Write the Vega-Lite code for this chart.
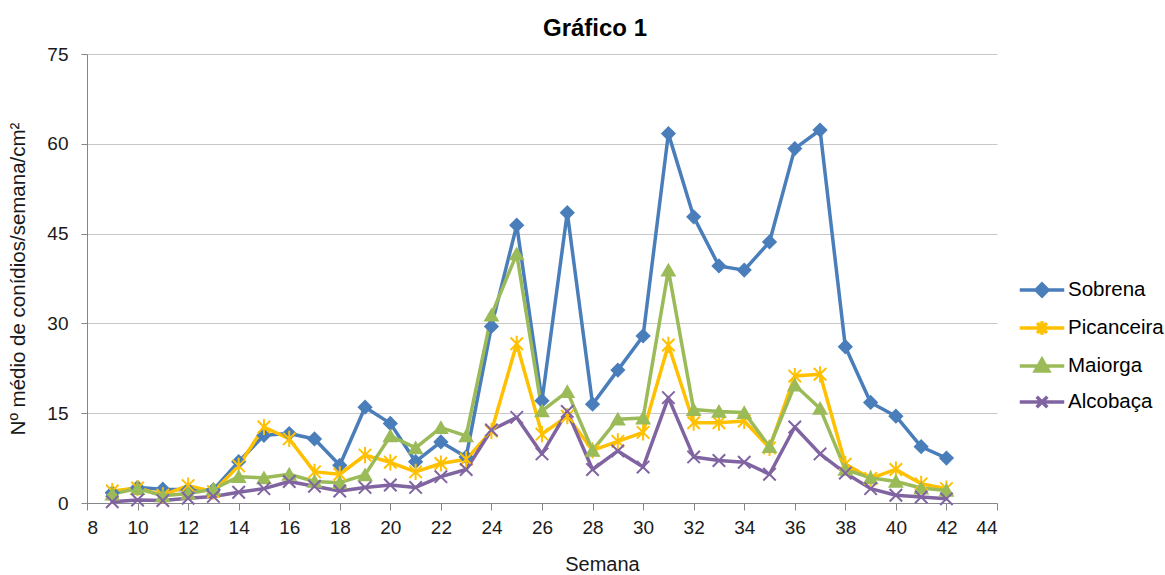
{
  "$schema": "https://vega.github.io/schema/vega-lite/v6.json",
  "autosize": {"type": "none"},
  "width": 910,
  "height": 449,
  "padding": {"left": 87, "top": 54, "right": 168, "bottom": 72},
  "background": "white",
  "title": {"text": "Gráfico 1", "font": "Liberation Sans", "fontSize": 24, "fontWeight": "bold", "color": "#000000", "anchor": "start", "frame": "group", "dx": 456, "offset": 4},
  "config": {"view": {"stroke": null}, "font": "Liberation Sans"},
  "resolve": {"legend": {"color": "independent", "shape": "independent", "stroke": "independent"}},
  "data": {"values": [
    {"w":9,"s":"Sobrena","v":1.7},{"w":10,"s":"Sobrena","v":2.6},{"w":11,"s":"Sobrena","v":2.3},{"w":12,"s":"Sobrena","v":2.2},{"w":13,"s":"Sobrena","v":2.2},{"w":14,"s":"Sobrena","v":6.9},{"w":15,"s":"Sobrena","v":11.3},{"w":16,"s":"Sobrena","v":11.6},{"w":17,"s":"Sobrena","v":10.7},{"w":18,"s":"Sobrena","v":6.3},{"w":19,"s":"Sobrena","v":16.0},{"w":20,"s":"Sobrena","v":13.3},{"w":21,"s":"Sobrena","v":6.9},{"w":22,"s":"Sobrena","v":10.2},{"w":23,"s":"Sobrena","v":7.7},{"w":24,"s":"Sobrena","v":29.5},{"w":25,"s":"Sobrena","v":46.4},{"w":26,"s":"Sobrena","v":17.1},{"w":27,"s":"Sobrena","v":48.5},{"w":28,"s":"Sobrena","v":16.5},{"w":29,"s":"Sobrena","v":22.2},{"w":30,"s":"Sobrena","v":27.9},{"w":31,"s":"Sobrena","v":61.7},{"w":32,"s":"Sobrena","v":47.8},{"w":33,"s":"Sobrena","v":39.6},{"w":34,"s":"Sobrena","v":38.9},{"w":35,"s":"Sobrena","v":43.6},{"w":36,"s":"Sobrena","v":59.2},{"w":37,"s":"Sobrena","v":62.3},{"w":38,"s":"Sobrena","v":26.1},{"w":39,"s":"Sobrena","v":16.8},{"w":40,"s":"Sobrena","v":14.5},{"w":41,"s":"Sobrena","v":9.4},{"w":42,"s":"Sobrena","v":7.5},
    {"w":9,"s":"Picanceira","v":2.0},{"w":10,"s":"Picanceira","v":2.5},{"w":11,"s":"Picanceira","v":1.3},{"w":12,"s":"Picanceira","v":2.9},{"w":13,"s":"Picanceira","v":1.9},{"w":14,"s":"Picanceira","v":6.2},{"w":15,"s":"Picanceira","v":12.7},{"w":16,"s":"Picanceira","v":10.7},{"w":17,"s":"Picanceira","v":5.2},{"w":18,"s":"Picanceira","v":4.8},{"w":19,"s":"Picanceira","v":8.0},{"w":20,"s":"Picanceira","v":6.8},{"w":21,"s":"Picanceira","v":5.2},{"w":22,"s":"Picanceira","v":6.6},{"w":23,"s":"Picanceira","v":7.3},{"w":24,"s":"Picanceira","v":12.0},{"w":25,"s":"Picanceira","v":26.6},{"w":26,"s":"Picanceira","v":11.5},{"w":27,"s":"Picanceira","v":14.5},{"w":28,"s":"Picanceira","v":8.8},{"w":29,"s":"Picanceira","v":10.3},{"w":30,"s":"Picanceira","v":11.8},{"w":31,"s":"Picanceira","v":26.4},{"w":32,"s":"Picanceira","v":13.4},{"w":33,"s":"Picanceira","v":13.4},{"w":34,"s":"Picanceira","v":13.7},{"w":35,"s":"Picanceira","v":9.2},{"w":36,"s":"Picanceira","v":21.2},{"w":37,"s":"Picanceira","v":21.5},{"w":38,"s":"Picanceira","v":6.5},{"w":39,"s":"Picanceira","v":4.1},{"w":40,"s":"Picanceira","v":5.6},{"w":41,"s":"Picanceira","v":3.2},{"w":42,"s":"Picanceira","v":2.4},
    {"w":9,"s":"Maiorga","v":1.5},{"w":10,"s":"Maiorga","v":2.4},{"w":11,"s":"Maiorga","v":1.2},{"w":12,"s":"Maiorga","v":1.6},{"w":13,"s":"Maiorga","v":2.3},{"w":14,"s":"Maiorga","v":4.4},{"w":15,"s":"Maiorga","v":4.2},{"w":16,"s":"Maiorga","v":4.8},{"w":17,"s":"Maiorga","v":3.6},{"w":18,"s":"Maiorga","v":3.4},{"w":19,"s":"Maiorga","v":4.7},{"w":20,"s":"Maiorga","v":11.2},{"w":21,"s":"Maiorga","v":9.2},{"w":22,"s":"Maiorga","v":12.6},{"w":23,"s":"Maiorga","v":11.2},{"w":24,"s":"Maiorga","v":31.4},{"w":25,"s":"Maiorga","v":41.6},{"w":26,"s":"Maiorga","v":15.4},{"w":27,"s":"Maiorga","v":18.6},{"w":28,"s":"Maiorga","v":8.8},{"w":29,"s":"Maiorga","v":14.0},{"w":30,"s":"Maiorga","v":14.2},{"w":31,"s":"Maiorga","v":38.9},{"w":32,"s":"Maiorga","v":15.6},{"w":33,"s":"Maiorga","v":15.3},{"w":34,"s":"Maiorga","v":15.1},{"w":35,"s":"Maiorga","v":9.4},{"w":36,"s":"Maiorga","v":19.7},{"w":37,"s":"Maiorga","v":15.8},{"w":38,"s":"Maiorga","v":5.6},{"w":39,"s":"Maiorga","v":4.2},{"w":40,"s":"Maiorga","v":3.6},{"w":41,"s":"Maiorga","v":2.5},{"w":42,"s":"Maiorga","v":2.1},
    {"w":9,"s":"Alcobaça","v":0.2},{"w":10,"s":"Alcobaça","v":0.5},{"w":11,"s":"Alcobaça","v":0.4},{"w":12,"s":"Alcobaça","v":0.8},{"w":13,"s":"Alcobaça","v":1.1},{"w":14,"s":"Alcobaça","v":1.8},{"w":15,"s":"Alcobaça","v":2.4},{"w":16,"s":"Alcobaça","v":3.6},{"w":17,"s":"Alcobaça","v":2.8},{"w":18,"s":"Alcobaça","v":2.0},{"w":19,"s":"Alcobaça","v":2.6},{"w":20,"s":"Alcobaça","v":3.0},{"w":21,"s":"Alcobaça","v":2.6},{"w":22,"s":"Alcobaça","v":4.4},{"w":23,"s":"Alcobaça","v":5.6},{"w":24,"s":"Alcobaça","v":12.2},{"w":25,"s":"Alcobaça","v":14.3},{"w":26,"s":"Alcobaça","v":8.2},{"w":27,"s":"Alcobaça","v":15.3},{"w":28,"s":"Alcobaça","v":5.6},{"w":29,"s":"Alcobaça","v":8.7},{"w":30,"s":"Alcobaça","v":6.0},{"w":31,"s":"Alcobaça","v":17.6},{"w":32,"s":"Alcobaça","v":7.7},{"w":33,"s":"Alcobaça","v":7.1},{"w":34,"s":"Alcobaça","v":6.8},{"w":35,"s":"Alcobaça","v":4.8},{"w":36,"s":"Alcobaça","v":12.7},{"w":37,"s":"Alcobaça","v":8.2},{"w":38,"s":"Alcobaça","v":5.0},{"w":39,"s":"Alcobaça","v":2.4},{"w":40,"s":"Alcobaça","v":1.3},{"w":41,"s":"Alcobaça","v":1.0},{"w":42,"s":"Alcobaça","v":0.7}
  ]},
  "encoding": {
    "x": {"field": "w", "type": "quantitative",
      "scale": {"domain": [8, 44], "nice": false, "zero": false},
      "axis": {"values": [8,10,12,14,16,18,20,22,24,26,28,30,32,34,36,38,40,42,44], "title": "Semana", "grid": false,
        "domainColor": "#868686", "domainWidth": 1, "tickColor": "#868686", "tickSize": 7,
        "labelFont": "Liberation Sans", "labelFontSize": 19, "labelColor": "#1a1a1a", "labelPadding": 8,
        "titleFont": "Liberation Sans", "titleFontSize": 20, "titleFontWeight": "normal", "titleColor": "#1a1a1a",
        "titleX": 515, "titleY": 51, "titleBaseline": "top"}},
    "y": {"field": "v", "type": "quantitative",
      "scale": {"domain": [0, 75], "nice": false},
      "axis": {"values": [0,15,30,45,60,75], "title": "Nº médio de conídios/semana/cm²", "grid": true, "gridColor": "#c8c8c8", "gridWidth": 1,
        "domainColor": "#868686", "domainWidth": 1, "tickColor": "#868686", "tickSize": 6,
        "labelFont": "Liberation Sans", "labelFontSize": 19, "labelColor": "#1a1a1a", "labelPadding": 13,
        "titleFont": "Liberation Sans", "titleFontSize": 20.5, "titleFontWeight": "normal", "titleColor": "#1a1a1a", "titlePadding": 18}}
  },
  "layer": [
    {
      "mark": {"type": "line", "strokeWidth": 3.5, "strokeJoin": "round", "strokeCap": "round"},
      "encoding": {
        "color": {"field": "s", "type": "nominal",
          "scale": {"domain": ["Sobrena","Picanceira","Maiorga","Alcobaça"], "range": ["#4a7ebb","#ffc000","#9bbb59","#8064a2"]},
          "legend": {"orient": "none", "legendX": 931, "legendY": 212, "title": null,
            "labelFont": "Liberation Sans", "labelFontSize": 20.5, "labelColor": "#000000", "labelOffset": 2,
            "symbolSize": 1980, "rowPadding": 0, "padding": 0,
            "encode": {"symbols": {"update": {
              "shape": {"signal": "datum.value === 'Sobrena' ? 'M-1,0H1M0,-0.27L0.27,0L0,0.27L-0.27,0Z' : datum.value === 'Picanceira' ? 'M-1,0H1M-0.22,-0.22L0.22,0.22M-0.22,0.22L0.22,-0.22M0,-0.3V0.3' : datum.value === 'Maiorga' ? 'M-1,0H1M0,-0.3L0.3,0.22L-0.3,0.22Z' : 'M-1,0H1M-0.24,-0.24L0.24,0.24M-0.24,0.24L0.24,-0.24'"},
              "fill": {"scale": "color", "field": "value"},
              "stroke": {"scale": "color", "field": "value"},
              "strokeWidth": {"value": 3.5},
              "size": {"value": 1980},
              "opacity": {"value": 1}
            }}}
          }}
      }
    },
    {
      "mark": {"type": "point", "filled": true, "strokeWidth": 2, "size": 155, "opacity": 1},
      "encoding": {
        "color": {"field": "s", "type": "nominal", "legend": null},
        "stroke": {"field": "s", "type": "nominal",
          "scale": {"domain": ["Sobrena","Picanceira","Maiorga","Alcobaça"], "range": ["#4a7ebb","#ffc000","#9bbb59","#8064a2"]}, "legend": null},
        "shape": {"field": "s", "type": "nominal",
          "scale": {"domain": ["Sobrena","Picanceira","Maiorga","Alcobaça"], "range": ["diamond", "M-1,-1L1,1M-1,1L1,-1M0,-1.3V1.3", "triangle-up", "M-1,-1L1,1M-1,1L1,-1"]}, "legend": null}
      }
    }
  ]
}
